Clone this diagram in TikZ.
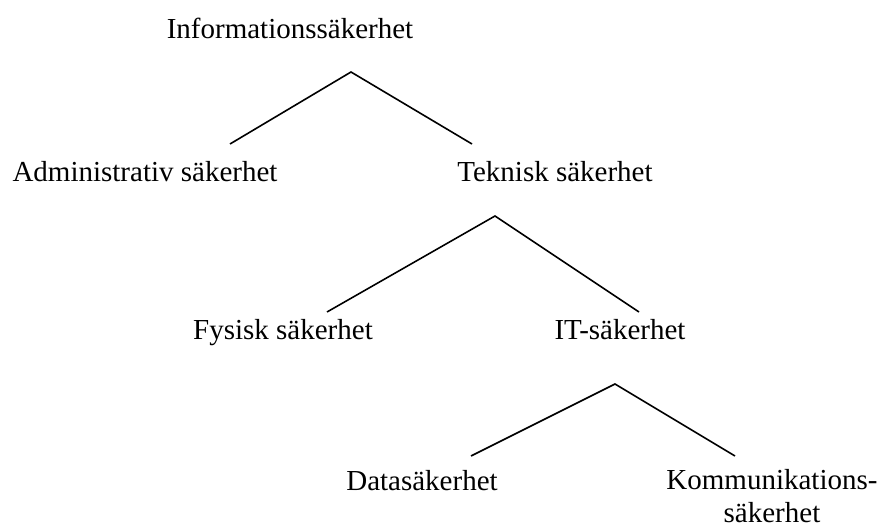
\documentclass[tikz,border=0pt]{standalone}
\usepackage{fontspec}
\setmainfont{Liberation Serif}
\begin{document}
\begin{tikzpicture}[x=1pt,y=-1pt,line width=1.6pt,
  term/.style={anchor=base,inner sep=0pt,align=center,font=\fontsize{29}{33}\selectfont}]
\useasboundingbox (0,0) rectangle (881,529);
% the terms, placed by their (last) baselines
\node[term] (info) at (290,39) {Informationssäkerhet};
\node[term] (adm) at (145,182) {Administrativ säkerhet};
\node[term] (tek) at (555,182) {Teknisk säkerhet};
\node[term] (fys) at (283,340) {Fysisk säkerhet};
\node[term] (it) at (620,340) {IT-säkerhet};
\node[term] (data) at (422,490) {Datasäkerhet};
\node[term] (komm) at (772,522) {Kommunikations-\\säkerhet};
% branch points
\coordinate (b1) at (351,72);  \coordinate (b1l) at (230,144); \coordinate (b1r) at (472,144);
\coordinate (b2) at (495,216); \coordinate (b2l) at (327,312); \coordinate (b2r) at (639,312);
\coordinate (b3) at (615,384); \coordinate (b3l) at (471,456); \coordinate (b3r) at (735,456);
\foreach \b in {b1,b2,b3}
  \draw (\b l)--(\b)--(\b r);
\end{tikzpicture}
\end{document}
